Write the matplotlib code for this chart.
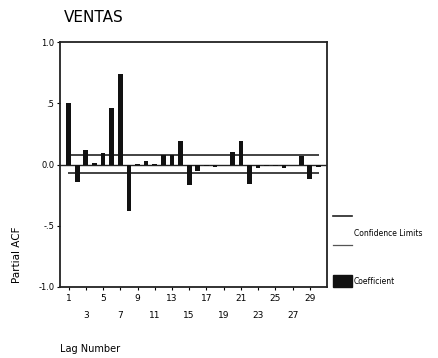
import numpy as np
import matplotlib
matplotlib.use("Agg")
import matplotlib.pyplot as plt
from matplotlib.lines import Line2D
from matplotlib.patches import Patch

lags = list(range(1, 31))
pacf = [0.50, -0.14, 0.115, 0.01, 0.09, 0.46, 0.735, -0.38, 0.005, 0.03,
        0.005, 0.075, 0.075, 0.19, -0.17, -0.05, -0.01, -0.02, 0.0, 0.10,
        0.19, -0.16, -0.03, -0.01, -0.01, -0.03, 0.0, 0.07, -0.12, -0.02]
conf_upper = 0.074
conf_lower = -0.07
ytick_vals = [1.0, 0.5, 0.0, -0.5, -1.0]
ytick_labels = ["1.0", ".5", "0.0", "-.5", "-1.0"]
xtick_top = [1, 5, 9, 13, 17, 21, 25, 29]
xtick_bottom = [3, 7, 11, 15, 19, 23, 27]

fig = plt.figure(figsize=(4.39, 3.58), dpi=100)
W, H = 439, 358
ax = fig.add_axes([60 / W, 1 - 287 / H, (327 - 60) / W, (287 - 42) / H])

ax.bar(lags, pacf, width=0.55, color="#111111", zorder=3)
ax.axhline(0, color="#222222", lw=1.0, zorder=2)
ax.hlines([conf_upper, conf_lower], lags[0] - 0.1, lags[-1] + 0.1, color="#222222", lw=1.2, zorder=2)

ax.set_xlim(0, 31)
ax.set_ylim(-1.0, 1.0)
ax.set_yticks(ytick_vals)
ax.set_yticklabels(ytick_labels, fontsize=6)
ax.set_xticks(xtick_top + xtick_bottom)
labels = []
for t in xtick_top + xtick_bottom:
    labels.append(str(t))
ax.set_xticklabels(labels, fontsize=6.5)
for lbl, t in zip(ax.get_xticklabels(), xtick_top + xtick_bottom):
    if t in xtick_bottom:
        lbl.set_y(-0.07)
ax.tick_params(axis="x", length=2, pad=3)
ax.tick_params(axis="y", length=2, pad=2)
for s in ax.spines.values():
    s.set_linewidth(1.3)
    s.set_color("#222222")

fig.text(94 / W, 1 - 17 / H, "VENTAS", fontsize=11, ha="center", va="center")
fig.text(17 / W, 1 - 255 / H, "Partial ACF", fontsize=7.5, rotation=90, ha="center", va="center")
fig.text(60 / W, 1 - 349 / H, "Lag Number", fontsize=7, ha="left", va="center")

# legend drawn manually outside the axes
fig.add_artist(Line2D([333 / W, 352 / W], [1 - 216 / H, 1 - 216 / H], color="#222222", lw=1.2))
fig.add_artist(Line2D([333 / W, 352 / W], [1 - 245 / H, 1 - 245 / H], color="#555555", lw=0.9))
fig.text(354 / W, 1 - 234 / H, "Confidence Limits", fontsize=5.5, ha="left", va="center")
fig.add_artist(plt.Rectangle((333 / W, 1 - 287 / H), 19 / W, 12 / H, color="#111111", transform=fig.transFigure))
fig.text(354 / W, 1 - 281 / H, "Coefficient", fontsize=5.5, ha="left", va="center")

fig.savefig("out.png", dpi=100)
